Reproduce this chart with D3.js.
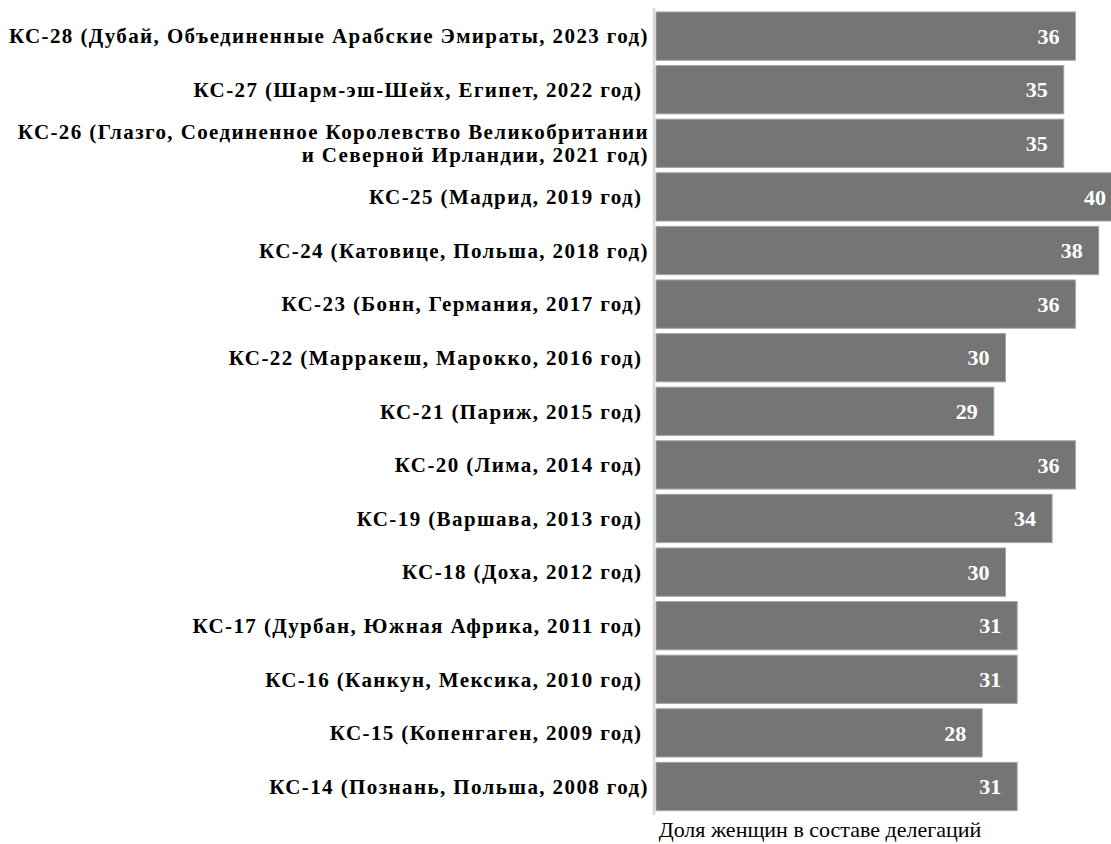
<!DOCTYPE html>
<html><head><meta charset="utf-8">
<script src="https://cdn.jsdelivr.net/npm/d3@7"></script>
<style>
html,body{margin:0;padding:0;background:#fff;overflow:hidden;}
text{white-space:pre;}
</style>
</head><body>
<svg id="chart" width="1111" height="844"></svg>
<script>
const categories = [
  ["КС-28 (Дубай, Объединенные Арабские Эмираты, 2023 год)"],
  ["КС-27 (Шарм-эш-Шейх, Египет, 2022 год) "],
  ["КС-26 (Глазго, Соединенное Королевство Великобритании", "и Северной Ирландии, 2021 год)"],
  ["КС-25 (Мадрид, 2019 год) "],
  ["КС-24 (Катовице, Польша, 2018 год)"],
  ["КС-23 (Бонн, Германия, 2017 год) "],
  ["КС-22 (Марракеш, Марокко, 2016 год) "],
  ["КС-21 (Париж, 2015 год) "],
  ["КС-20 (Лима, 2014 год) "],
  ["КС-19 (Варшава, 2013 год) "],
  ["КС-18 (Доха, 2012 год) "],
  ["КС-17 (Дурбан, Южная Африка, 2011 год) "],
  ["КС-16 (Канкун, Мексика, 2010 год) "],
  ["КС-15 (Копенгаген, 2009 год) "],
  ["КС-14 (Познань, Польша, 2008 год)"]
];
const values = [36, 35, 35, 40, 38, 36, 30, 29, 36, 34, 30, 31, 31, 28, 31];
const axisTitle = "Доля женщин в составе делегаций";

const svg = d3.select("#chart");
const ids = d3.range(categories.length);

const x = d3.scaleLinear().domain([0, 40]).range([656, 1122]);
const y = d3.scaleBand().domain(ids).range([9.3, 813.3]).paddingInner(0.1).paddingOuter(0.05);

// bars
svg.append("g").selectAll("rect").data(ids).join("rect")
  .attr("x", x(0))
  .attr("y", i => y(i))
  .attr("width", i => x(values[i]) - x(0))
  .attr("height", y.bandwidth())
  .attr("fill", "#757575")
  .attr("stroke", "#a3a3a3")
  .attr("stroke-width", 1);

// axis line (vertical category axis)
svg.append("line")
  .attr("x1", 654).attr("x2", 654)
  .attr("y1", 8).attr("y2", 815)
  .attr("stroke", "#d9d9d9").attr("stroke-width", 2.5);

// value labels
svg.append("g").selectAll("text").data(ids).join("text")
  .attr("x", i => x(values[i]) - 16)
  .attr("y", i => y(i) + y.bandwidth() / 2)
  .attr("dy", "0.35em")
  .attr("text-anchor", "end")
  .attr("fill", "#ffffff")
  .attr("font-family", "'Liberation Serif', 'Times New Roman', serif")
  .attr("font-weight", "bold")
  .attr("font-size", 22)
  .text(i => values[i]);

// category labels
const lab = svg.append("g").selectAll("text").data(ids).join("text")
  .attr("text-anchor", "end")
  .attr("fill", "#000")
  .attr("font-family", "'Liberation Serif', 'Times New Roman', serif")
  .attr("font-weight", "bold")
  .attr("font-size", 21)
  .attr("letter-spacing", "1.4px")
  .attr("y", i => y(i) + y.bandwidth() / 2);
lab.each(function(i) {
  const lines = categories[i];
  const t = d3.select(this);
  lines.forEach((ln, k) => {
    t.append("tspan")
      .attr("x", 649)
      .attr("dy", k === 0 ? ((0.35 - (lines.length - 1) * 0.55) + "em") : "1.1em")
      .text(ln);
  });
});

// axis title
svg.append("text")
  .attr("x", 820)
  .attr("y", 837)
  .attr("text-anchor", "middle")
  .attr("fill", "#000")
  .attr("font-family", "'Liberation Serif', 'Times New Roman', serif")
  .attr("font-size", 22)
  .text(axisTitle);
</script>
</body></html>
